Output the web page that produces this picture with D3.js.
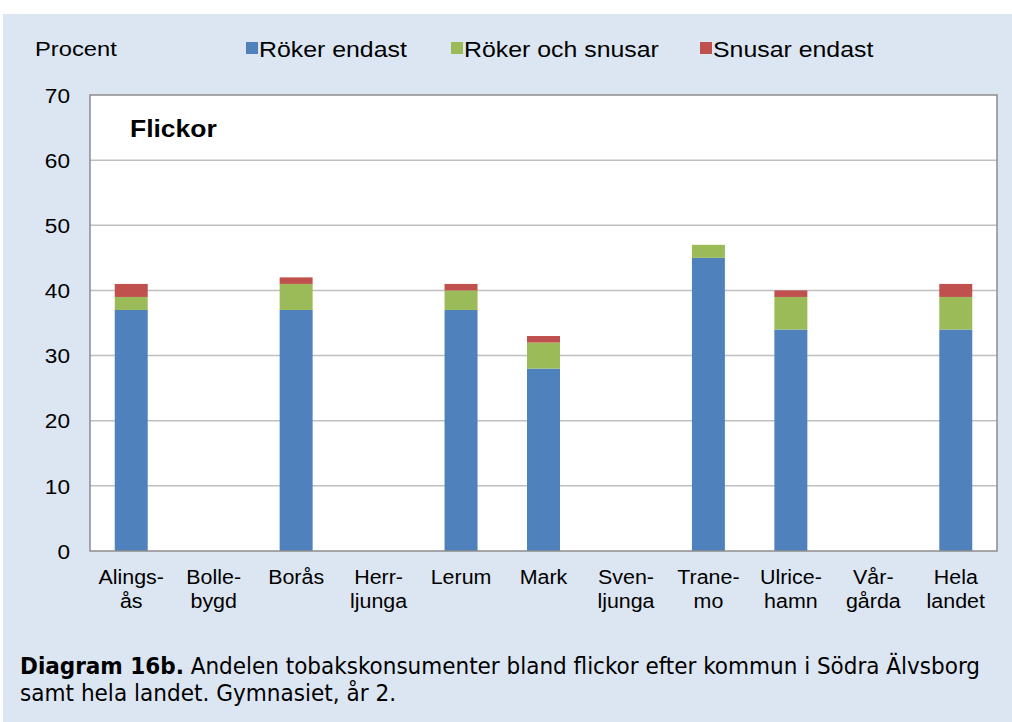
<!DOCTYPE html>
<html>
<head>
<meta charset="utf-8">
<script src="https://cdn.jsdelivr.net/npm/d3@7"></script>
<style>
  body { margin: 0; background: #fff; }
  svg text { font-family: Arial, "Liberation Sans", Helvetica, sans-serif; fill: #000; }
</style>
</head>
<body>
<div id="chart"></div>
<script>
// data
// ----------------------------------------
var kommuner = [["Alings-", "ås"], ["Bolle-", "bygd"], ["Borås"], ["Herr-", "ljunga"], ["Lerum"], ["Mark"],
	["Sven-", "ljunga"], ["Trane-", "mo"], ["Ulrice-", "hamn"], ["Vår-", "gårda"], ["Hela", "landet"]];
var rokerEndast    = [37, null, 37, null, 37, 28, null, 45, 34, null, 34];
var rokerOchSnusar = [2, null, 4, null, 3, 4, null, 2, 5, null, 5];
var snusarEndast   = [2, null, 1, null, 1, 1, null, 0, 1, null, 2];
var seriesNames = ["Röker endast", "Röker och snusar", "Snusar endast"];
var colors = ["#4f81bd", "#9bbb59", "#c0504d"];
var yTicks = [0, 10, 20, 30, 40, 50, 60, 70];

// main variables
// ----------------------------------------
var width = 1012, height = 722;
var plot = {left: 90, right: 997, top: 95, bottom: 551};
var font = "Arial, 'Liberation Sans', sans-serif";
var wide = 1.13; // the original text looks stretched sideways

// widen a text a bit, keeps its anchor
function stretch(sel, k){
	sel.each(function(){
		var len = this.getComputedTextLength();
		d3.select(this).attr("textLength", len * k).attr("lengthAdjust", "spacingAndGlyphs");
	});
}

var svg = d3.select("#chart").append("svg")
	.attr("width", width)
	.attr("height", height);

// background panel
svg.append("rect").attr("x", 3).attr("y", 14).attr("width", width - 3).attr("height", height - 14)
	.attr("fill", "#dce6f2");

svg.append("rect").attr("x", plot.left).attr("y", plot.top)
	.attr("width", plot.right - plot.left).attr("height", plot.bottom - plot.top)
	.attr("fill", "#fff");

var x = d3.scaleBand()
	.domain(d3.range(kommuner.length))
	.range([plot.left, plot.right])
	.paddingInner(0.6).paddingOuter(0.3);

var y = d3.scaleLinear().domain([0, 70]).range([plot.bottom, plot.top]);

// gridlines
svg.append("g").selectAll("line")
	.data(yTicks.filter(function(d){ return d > 0 && d < 70; }))
	.enter().append("line")
	.attr("x1", plot.left).attr("x2", plot.right)
	.attr("y1", function(d){ return y(d); }).attr("y2", function(d){ return y(d); })
	.attr("stroke", "#bfbfbf").attr("stroke-width", 1.5);

// stacked bars
var rows = kommuner.map(function(k, i){
	return {i: i, r: rokerEndast[i] || 0, rs: rokerOchSnusar[i] || 0, s: snusarEndast[i] || 0};
});
var stack = d3.stack().keys(["r", "rs", "s"])(rows);

svg.append("g").selectAll("g")
	.data(stack)
	.enter().append("g")
	.attr("fill", function(d, i){ return colors[i]; })
	.selectAll("rect")
	.data(function(d){ return d; })
	.enter().append("rect")
	.attr("x", function(d){ return x(d.data.i); })
	.attr("width", x.bandwidth())
	.attr("y", function(d){ return y(d[1]); })
	.attr("height", function(d){ return y(d[0]) - y(d[1]); });

// frame
svg.append("rect").attr("x", plot.left).attr("y", plot.top)
	.attr("width", plot.right - plot.left).attr("height", plot.bottom - plot.top)
	.attr("fill", "none").attr("stroke", "#8c8c8c").attr("stroke-width", 1.5);

// y axis
var yAxis = svg.append("g")
	.attr("transform", "translate(" + plot.left + ",0)")
	.call(d3.axisLeft(y).tickValues(yTicks).tickSize(0).tickPadding(20));
yAxis.select(".domain").remove();
yAxis.selectAll("text").style("font-size", "20px").style("font-family", font).attr("dy", "0.36em");
stretch(yAxis.selectAll("text"), wide);

// x labels, one text per line
var xl = svg.append("g").selectAll("g")
	.data(kommuner)
	.enter().append("g")
	.attr("transform", function(d, i){ return "translate(" + (x(i) + x.bandwidth() / 2) + ",0)"; });
xl.selectAll("text")
	.data(function(d){ return d; })
	.enter().append("text")
	.attr("y", function(d, i){ return 584 + i * 24; })
	.attr("text-anchor", "middle")
	.style("font-size", "20px")
	.text(function(d){ return d; });
stretch(xl.selectAll("text"), 1.07);

// labels
svg.append("text").attr("x", 35).attr("y", 56).style("font-size", "21px").text("Procent").call(stretch, wide);
svg.append("text").attr("x", 130).attr("y", 137).style("font-size", "23px").style("font-weight", "bold")
	.text("Flickor").call(stretch, 1.15);

// legend
var legendX = [246, 451, 700];
var lg = svg.append("g").selectAll("g")
	.data(seriesNames)
	.enter().append("g")
	.attr("transform", function(d, i){ return "translate(" + legendX[i] + ",0)"; });
lg.append("rect").attr("x", 0).attr("y", 42).attr("width", 12).attr("height", 12)
	.attr("fill", function(d, i){ return colors[i]; });
lg.append("text").attr("x", 13).attr("y", 57).style("font-size", "22px")
	.text(function(d){ return d; })
	.call(stretch, wide);

// caption
var capFont = "'DejaVu Sans Condensed', 'DejaVu Sans', sans-serif";
var cap = svg.append("text").attr("x", 20).attr("y", 674)
	.attr("textLength", 960).attr("lengthAdjust", "spacingAndGlyphs")
	.style("font-family", capFont).style("font-size", "23px");
cap.append("tspan").style("font-weight", "bold").text("Diagram 16b.");
cap.append("tspan").text(" Andelen tobakskonsumenter bland flickor efter kommun i Södra Älvsborg");
svg.append("text").attr("x", 20).attr("y", 701)
	.attr("textLength", 376).attr("lengthAdjust", "spacingAndGlyphs")
	.style("font-family", capFont).style("font-size", "23px")
	.text("samt hela landet. Gymnasiet, år 2.");
</script>
</body>
</html>
